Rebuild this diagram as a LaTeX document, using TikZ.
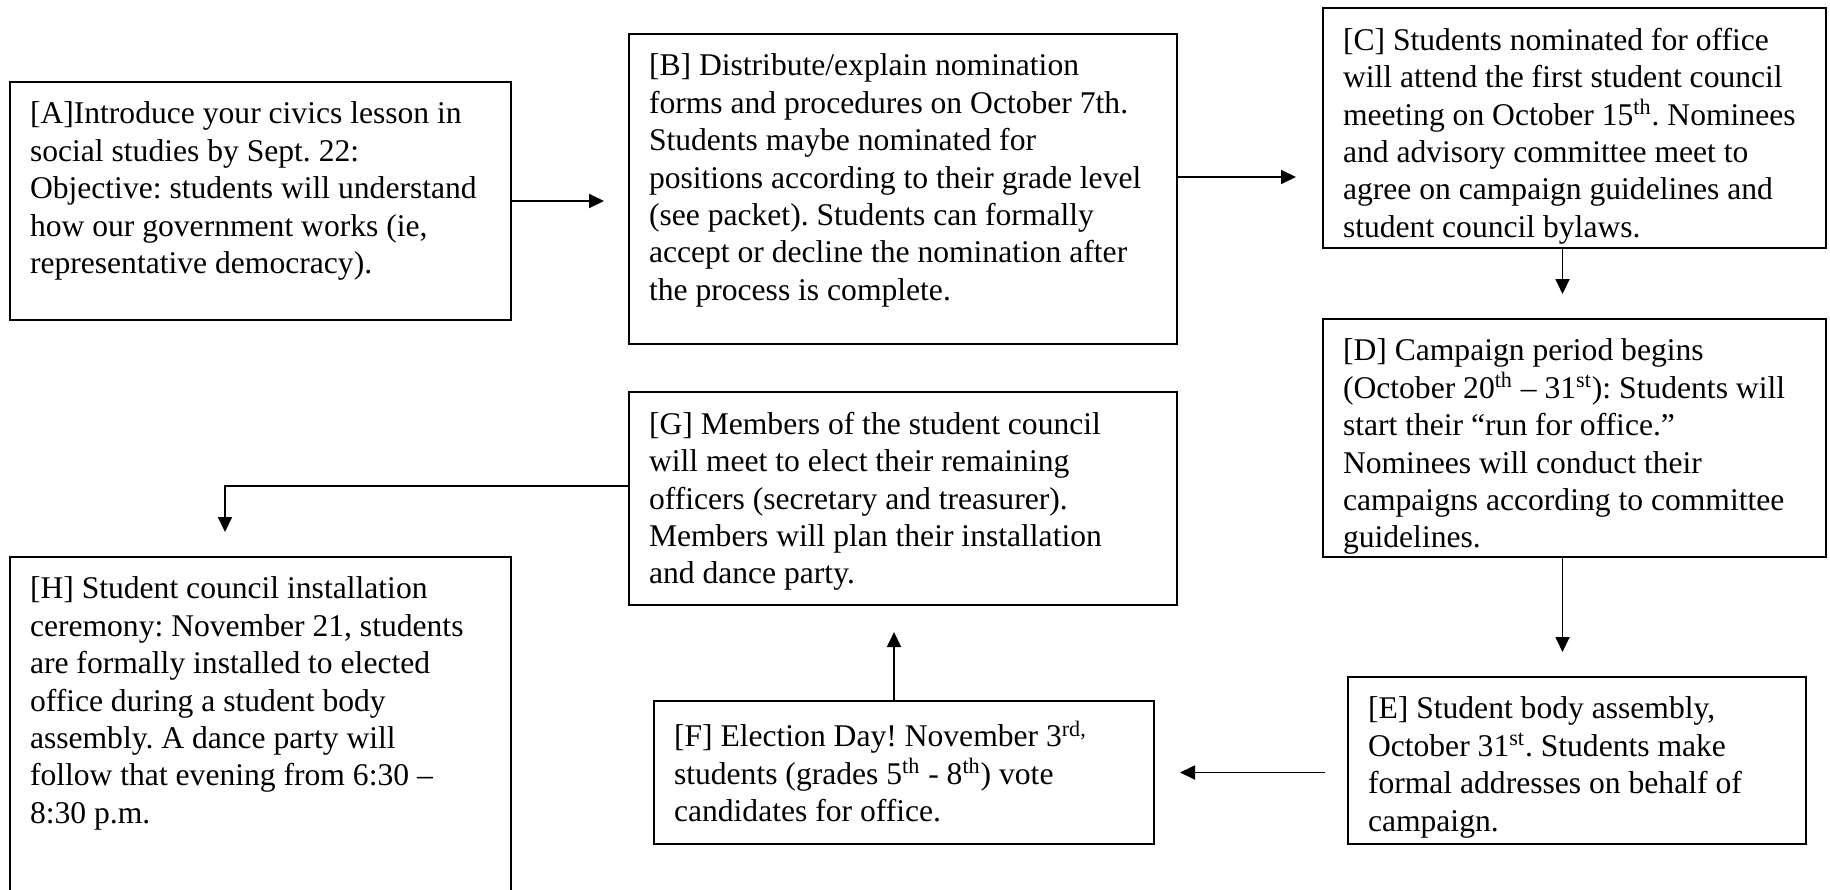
\documentclass[tikz,border=0pt]{standalone}
\usepackage{fontspec}
\setmainfont{Liberation Serif}
\usetikzlibrary{positioning, arrows.meta, calc}

% text block of a step: width, height, text
\newcommand{\steptext}[3]{\parbox[t][#2][t]{#1}{\raggedright\frenchspacing #3}}

\begin{document}
\begin{tikzpicture}[
  x=0.5pt, y=-0.5pt,
  stepbox/.style={draw, line width=1pt, anchor=north west, inner sep=10pt,
    font=\fontsize{15.8pt}{18.7pt}\selectfont},
  arr/.style={-{Triangle[length=7.5pt, width=7pt]}, line width=0.9pt}
]
\useasboundingbox (0,0) rectangle (1830,889);

% Top row
\node[stepbox] (A) at (9,81) {\steptext{230.5pt}{99pt}{%
  [A]Introduce your civics lesson in\\
  social studies by Sept. 22:\\
  Objective: students will understand\\
  how our government works (ie,\\
  representative democracy).}};
\node[stepbox] (B) at (628,33) {\steptext{254pt}{135pt}{%
  [B] Distribute/explain nomination\\
  forms and procedures on October 7th.\\
  Students maybe nominated for\\
  positions according to their grade level\\
  (see packet). Students can formally\\
  accept or decline the nomination after\\
  the process is complete.}};
\node[stepbox] (C) at (1322,7) {\steptext{231.5pt}{100pt}{%
  [C] Students nominated for office\\
  will attend the first student council\\
  meeting on October 15\textsuperscript{th}. Nominees\\
  and advisory committee meet to\\
  agree on campaign guidelines and\\
  student council bylaws.}};

% Right column
\node[stepbox] (D) at (1322,318) {\steptext{231.5pt}{99pt}{%
  [D] Campaign period begins\\
  (October 20\textsuperscript{th} – 31\textsuperscript{st}): Students will\\
  start their “run for office.”\\
  Nominees will conduct their\\
  campaigns according to committee\\
  guidelines.}};
\node[stepbox] (E) at (1347,676) {\steptext{209pt}{63.5pt}{%
  [E] Student body assembly,\\
  October 31\textsuperscript{st}. Students make\\
  formal addresses on behalf of\\
  campaign.}};

% Bottom row
\node[stepbox] (F) at (653,700) {\steptext{230pt}{51.5pt}{%
  [F] Election Day! November 3\textsuperscript{rd,}\\
  students (grades 5\textsuperscript{th} - 8\textsuperscript{th}) vote\\
  candidates for office.}};
\node[stepbox] (G) at (628,391) {\steptext{254pt}{86.5pt}{%
  [G] Members of the student council\\
  will meet to elect their remaining\\
  officers (secretary and treasurer).\\
  Members will plan their installation\\
  and dance party.}};
\node[stepbox] (H) at (9,556) {\steptext{230.5pt}{149.5pt}{%
  [H] Student council installation\\
  ceremony: November 21, students\\
  are formally installed to elected\\
  office during a student body\\
  assembly. A dance party will\\
  follow that evening from 6:30 –\\
  8:30 p.m.}};

% Arrows
\coordinate (b1) at ($(B.east)+(0,-12)$);
\coordinate (c1) at ($(C.south)+(-12,0)$);
\coordinate (d1) at ($(D.south)+(-12,0)$);
\coordinate (f1) at ($(F.north)+(-10,0)$);
\coordinate (g1) at ($(G.west)+(0,-12.5)$);
\coordinate (h1) at ($(H.north)+(-35.5,0)$);

\draw[arr, shorten >=12pt] (A.east) -- (A.east -| B.west);
\draw[arr, shorten >=13pt] (b1) -- (b1 -| C.west);
\draw[arr, shorten >=12pt] (c1) -- (c1 |- D.north);
\draw[arr, shorten >=12pt] (d1) -- (d1 |- E.north);
\draw[arr, shorten <=11pt, shorten >=12.5pt] (F.east -| E.west) -- (F.east);
\draw[arr, shorten >=13pt] (f1) -- (f1 |- G.south);
\draw[arr, shorten >=12pt] (g1) -| (h1);

\end{tikzpicture}
\end{document}
